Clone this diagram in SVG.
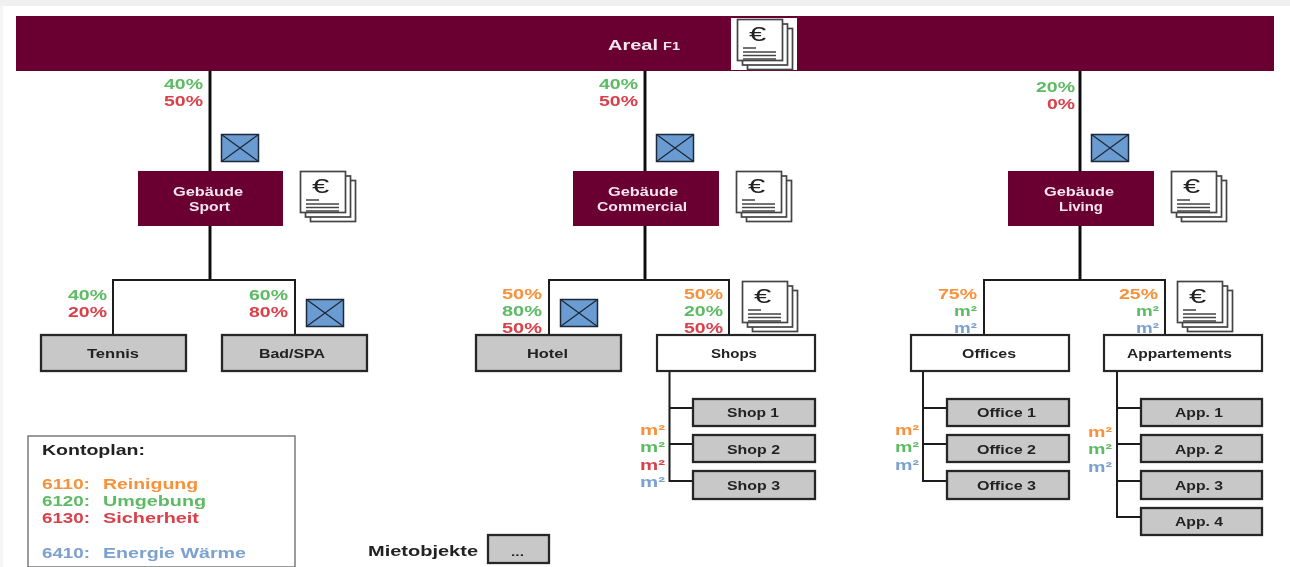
<svg xmlns="http://www.w3.org/2000/svg" xmlns:xlink="http://www.w3.org/1999/xlink" width="1290" height="567" viewBox="0 0 1290 567">
<style>
text{font-family:"Liberation Sans",Arial,sans-serif;font-weight:bold;font-size:13px}
.m{fill:#6a0032}
.g{fill:#c8c8c8;stroke:#262626;stroke-width:2.300}
.w{fill:#fff;stroke:#262626;stroke-width:2.200}
.k{fill:#222}
.wt{fill:#f3e6ee}
.c{fill:none;stroke:#1c1c1c;stroke-width:2}
.t{stroke-width:3;stroke:#111}
.p{font-size:14px}
.o{fill:#f7913a}.n{fill:#5dbb63}.r{fill:#d9404a}.b{fill:#7ba0cf}
.sh{fill:#fff;stroke:#444;stroke-width:1.700}
</style>
<defs>
<filter id="soft" x="0" y="0" width="100%" height="100%"><feGaussianBlur stdDeviation="0.5"/></filter>
<symbol id="doc" width="58" height="52" viewBox="0 0 58 52" overflow="visible">
<rect class="sh" x="10.500" y="9.500" width="45" height="41"/>
<rect class="sh" x="5.500" y="5" width="45" height="41"/>
<rect class="sh" x="0.500" y="0.500" width="45" height="41"/>
<text transform="translate(12 22) scale(1.55 1)" style="font-size:20px;font-weight:normal" fill="#222">€</text>
<path d="M6 29h13M6 33h33M6 36.500h33M6 40h33" stroke="#444" stroke-width="1.500" fill="none"/>
</symbol>
<symbol id="xb" width="38" height="28" viewBox="0 0 38 28" overflow="visible">
<rect x="0.500" y="0.500" width="37" height="27" fill="#6b9bd1" stroke="#1c2b3a" stroke-width="1.500"/>
<path d="M0.500 0.500L37.500 27.500M37.500 0.500L0.500 27.500" stroke="#1c2b3a" stroke-width="1.300"/>
</symbol>
</defs>
<rect width="1290" height="567" fill="#fff"/>
<rect width="1290" height="6" fill="#f0f0f0"/>
<rect y="6" width="3" height="561" fill="#f5f5f5"/>
<g filter="url(#soft)">
<g id="connectors">
<path class="c t" d="M210 71V171M210 226V279M645 71V171M645 226V279M1080 71V171M1080 226V279"/>
<path class="c" d="M113 335V280H295V335M549 335V280H729V335M984 335V280H1165V335"/>
<path class="c" d="M669.500 371V481H693M669.500 408H693M669.500 444H693"/>
<path class="c" d="M923 371V481H947M923 408H947M923 444H947"/>
<path class="c" d="M1117 371V517H1141M1117 408H1141M1117 444H1141M1117 481H1141"/>
</g>
<g id="areal"><rect class="m" x="16" y="16" width="1258" height="55"/>
<rect x="731" y="18" width="66" height="52" fill="#fff"/>
<use href="#doc" x="737" y="19"/>
<text class="wt" x="608" y="50" textLength="50" lengthAdjust="spacingAndGlyphs" style="font-size:14px">Areal</text>
<text class="wt" x="663" y="50" textLength="17" lengthAdjust="spacingAndGlyphs" style="font-size:10px">F1</text></g>

<g id="geb-sport"><rect class="m" x="138" y="171" width="145" height="55"/>
<text class="wt" x="173" y="196" textLength="70" lengthAdjust="spacingAndGlyphs">Gebäude</text>
<text class="wt" x="189" y="211" textLength="41" lengthAdjust="spacingAndGlyphs">Sport</text>
<use href="#xb" x="221" y="134"/><use href="#doc" x="300" y="171"/>
<text class="p n" x="164" y="89" textLength="39" lengthAdjust="spacingAndGlyphs">40%</text>
<text class="p r" x="164" y="106" textLength="39" lengthAdjust="spacingAndGlyphs">50%</text></g>

<g id="geb-commercial"><rect class="m" x="573" y="171" width="146" height="55"/>
<text class="wt" x="608" y="196" textLength="70" lengthAdjust="spacingAndGlyphs">Gebäude</text>
<text class="wt" x="597" y="211" textLength="90" lengthAdjust="spacingAndGlyphs">Commercial</text>
<use href="#xb" x="656" y="134"/><use href="#doc" x="736" y="171"/>
<text class="p n" x="599" y="89" textLength="39" lengthAdjust="spacingAndGlyphs">40%</text>
<text class="p r" x="599" y="106" textLength="39" lengthAdjust="spacingAndGlyphs">50%</text></g>

<g id="geb-living"><rect class="m" x="1008" y="171" width="146" height="55"/>
<text class="wt" x="1044" y="196" textLength="70" lengthAdjust="spacingAndGlyphs">Gebäude</text>
<text class="wt" x="1059" y="211" textLength="44" lengthAdjust="spacingAndGlyphs">Living</text>
<use href="#xb" x="1091" y="134"/><use href="#doc" x="1171" y="171"/>
<text class="p n" x="1036" y="92" textLength="39" lengthAdjust="spacingAndGlyphs">20%</text>
<text class="p r" x="1047" y="109" textLength="28" lengthAdjust="spacingAndGlyphs">0%</text></g>

<g id="tennis"><rect class="g" x="41" y="335" width="145" height="36"/>
<text class="k" x="87" y="358" textLength="52" lengthAdjust="spacingAndGlyphs">Tennis</text>
<text class="p n" x="68" y="300" textLength="39" lengthAdjust="spacingAndGlyphs">40%</text>
<text class="p r" x="68" y="317" textLength="39" lengthAdjust="spacingAndGlyphs">20%</text></g>

<g id="bad-spa"><rect class="g" x="222" y="335" width="145" height="36"/>
<text class="k" x="259" y="358" textLength="66" lengthAdjust="spacingAndGlyphs">Bad/SPA</text>
<text class="p n" x="249" y="300" textLength="39" lengthAdjust="spacingAndGlyphs">60%</text>
<text class="p r" x="249" y="317" textLength="39" lengthAdjust="spacingAndGlyphs">80%</text>
<use href="#xb" x="306" y="299"/></g>

<g id="hotel"><rect class="g" x="476" y="335" width="145" height="36"/>
<text class="k" x="527" y="358" textLength="41" lengthAdjust="spacingAndGlyphs">Hotel</text>
<text class="p o" x="502" y="299" textLength="40" lengthAdjust="spacingAndGlyphs">50%</text>
<text class="p n" x="502" y="316" textLength="40" lengthAdjust="spacingAndGlyphs">80%</text>
<text class="p r" x="502" y="333" textLength="40" lengthAdjust="spacingAndGlyphs">50%</text>
<use href="#xb" x="560" y="299"/></g>

<g id="shops"><rect class="w" x="657" y="335" width="158" height="36"/>
<text class="k" x="711" y="358" textLength="46" lengthAdjust="spacingAndGlyphs">Shops</text>
<text class="p o" x="684" y="299" textLength="39" lengthAdjust="spacingAndGlyphs">50%</text>
<text class="p n" x="684" y="316" textLength="39" lengthAdjust="spacingAndGlyphs">20%</text>
<text class="p r" x="684" y="333" textLength="39" lengthAdjust="spacingAndGlyphs">50%</text>
<use href="#doc" x="742" y="281"/>
<text class="p o" x="640" y="435" textLength="25" lengthAdjust="spacingAndGlyphs">m²</text>
<text class="p n" x="640" y="452" textLength="25" lengthAdjust="spacingAndGlyphs">m²</text>
<text class="p r" x="640" y="470" textLength="25" lengthAdjust="spacingAndGlyphs">m²</text>
<text class="p b" x="640" y="487" textLength="25" lengthAdjust="spacingAndGlyphs">m²</text></g>

<g id="shop-1"><rect class="g" x="693" y="399" width="122" height="27"/><text class="k" x="727" y="417" textLength="52" lengthAdjust="spacingAndGlyphs">Shop 1</text></g>
<g id="shop-2"><rect class="g" x="693" y="435" width="122" height="27"/><text class="k" x="727" y="454" textLength="53" lengthAdjust="spacingAndGlyphs">Shop 2</text></g>
<g id="shop-3"><rect class="g" x="693" y="471" width="122" height="28"/><text class="k" x="727" y="490" textLength="53" lengthAdjust="spacingAndGlyphs">Shop 3</text></g>

<g id="offices"><rect class="w" x="911" y="335" width="158" height="36"/>
<text class="k" x="962" y="358" textLength="54" lengthAdjust="spacingAndGlyphs">Offices</text>
<text class="p o" x="938" y="299" textLength="39" lengthAdjust="spacingAndGlyphs">75%</text>
<text class="p n" x="954" y="316" textLength="23" lengthAdjust="spacingAndGlyphs">m²</text>
<text class="p b" x="954" y="333" textLength="23" lengthAdjust="spacingAndGlyphs">m²</text>
<text class="p o" x="895" y="435" textLength="24" lengthAdjust="spacingAndGlyphs">m²</text>
<text class="p n" x="895" y="452" textLength="24" lengthAdjust="spacingAndGlyphs">m²</text>
<text class="p b" x="895" y="470" textLength="24" lengthAdjust="spacingAndGlyphs">m²</text></g>

<g id="office-1"><rect class="g" x="947" y="399" width="122" height="27"/><text class="k" x="977" y="417" textLength="59" lengthAdjust="spacingAndGlyphs">Office 1</text></g>
<g id="office-2"><rect class="g" x="947" y="435" width="122" height="27"/><text class="k" x="977" y="454" textLength="59" lengthAdjust="spacingAndGlyphs">Office 2</text></g>
<g id="office-3"><rect class="g" x="947" y="471" width="122" height="28"/><text class="k" x="977" y="490" textLength="59" lengthAdjust="spacingAndGlyphs">Office 3</text></g>

<g id="appartements"><rect class="w" x="1104" y="335" width="158" height="36"/>
<text class="k" x="1127" y="358" textLength="105" lengthAdjust="spacingAndGlyphs">Appartements</text>
<text class="p o" x="1119" y="299" textLength="39" lengthAdjust="spacingAndGlyphs">25%</text>
<text class="p n" x="1136" y="316" textLength="23" lengthAdjust="spacingAndGlyphs">m²</text>
<text class="p b" x="1136" y="333" textLength="23" lengthAdjust="spacingAndGlyphs">m²</text>
<use href="#doc" x="1177" y="281"/>
<text class="p o" x="1088" y="437" textLength="24" lengthAdjust="spacingAndGlyphs">m²</text>
<text class="p n" x="1088" y="454" textLength="24" lengthAdjust="spacingAndGlyphs">m²</text>
<text class="p b" x="1088" y="472" textLength="24" lengthAdjust="spacingAndGlyphs">m²</text></g>

<g id="app-1"><rect class="g" x="1141" y="399" width="121" height="27"/><text class="k" x="1175" y="417" textLength="48" lengthAdjust="spacingAndGlyphs">App. 1</text></g>
<g id="app-2"><rect class="g" x="1141" y="435" width="121" height="27"/><text class="k" x="1175" y="454" textLength="48" lengthAdjust="spacingAndGlyphs">App. 2</text></g>
<g id="app-3"><rect class="g" x="1141" y="471" width="121" height="28"/><text class="k" x="1175" y="490" textLength="48" lengthAdjust="spacingAndGlyphs">App. 3</text></g>
<g id="app-4"><rect class="g" x="1141" y="508" width="121" height="27"/><text class="k" x="1175" y="526" textLength="48" lengthAdjust="spacingAndGlyphs">App. 4</text></g>

<g id="kontoplan"><rect x="28" y="436" width="267" height="131" fill="#fff" stroke="#666" stroke-width="1.300"/>
<text class="k" x="42" y="455" textLength="103" lengthAdjust="spacingAndGlyphs" style="font-size:14px">Kontoplan:</text>
<text class="p o" x="42" y="489" textLength="48" lengthAdjust="spacingAndGlyphs">6110:</text><text class="p o" x="103" y="489" textLength="95" lengthAdjust="spacingAndGlyphs">Reinigung</text>
<text class="p n" x="42" y="506" textLength="48" lengthAdjust="spacingAndGlyphs">6120:</text><text class="p n" x="103" y="506" textLength="103" lengthAdjust="spacingAndGlyphs">Umgebung</text>
<text class="p r" x="42" y="523" textLength="48" lengthAdjust="spacingAndGlyphs">6130:</text><text class="p r" x="103" y="523" textLength="96" lengthAdjust="spacingAndGlyphs">Sicherheit</text>
<text class="p b" x="42" y="558" textLength="48" lengthAdjust="spacingAndGlyphs">6410:</text><text class="p b" x="103" y="558" textLength="143" lengthAdjust="spacingAndGlyphs">Energie Wärme</text></g>

<g id="mietobjekte"><text class="k" x="368" y="556" textLength="110" lengthAdjust="spacingAndGlyphs" style="font-size:14px">Mietobjekte</text>
<rect class="g" x="488" y="535" width="61" height="28"/>
<text class="k" x="511" y="556" textLength="13" lengthAdjust="spacingAndGlyphs" style="font-size:11px">...</text></g>
</g>
</svg>
